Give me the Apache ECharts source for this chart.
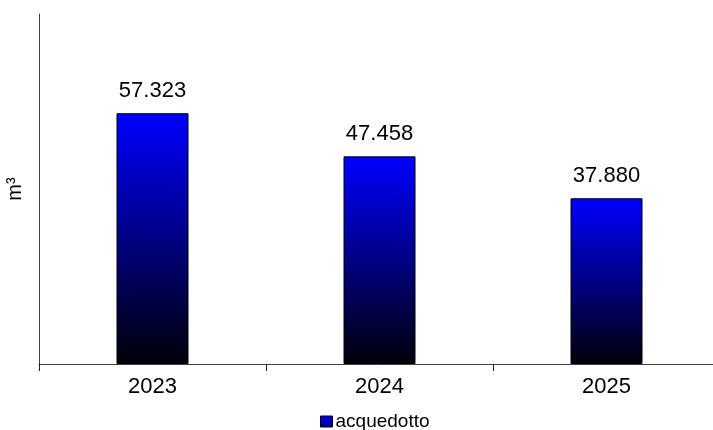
<!DOCTYPE html>
<html><head><meta charset="utf-8">
<script src="https://cdn.jsdelivr.net/npm/echarts@6/dist/echarts.min.js"></script>
<style>html,body{margin:0;padding:0;background:#fff}#c{width:713px;height:430px}</style>
</head><body><div id="c"></div>
<script>
const categories = ['2023', '2024', '2025'];
const acquedotto = [57323, 47458, 37880];
const seriesName = 'acquedotto';
const yName = 'm³';

const fmt = v => String(v).replace(/\B(?=(\d{3})+(?!\d))/g, '.');

const chart = echarts.init(document.getElementById('c'));
chart.setOption({
  animation: false,
  backgroundColor: '#fff',
  textStyle: { fontFamily: 'Liberation Sans, Arial, sans-serif' },
  grid: { left: 39, width: 681, top: 14, bottom: 66, containLabel: false, outerBoundsMode: 'none' },
  legend: {
    data: [seriesName],
    top: 412, left: 320, padding: 0,
    itemWidth: 12, itemHeight: 11, itemGap: 4,
    icon: 'rect',
    itemStyle: {
      color: new echarts.graphic.LinearGradient(0, 0, 0, 1, [
        { offset: 0, color: '#0000ff' },
        { offset: 1, color: '#00007a' }
      ]),
      borderColor: '#000', borderWidth: 1
    },
    textStyle: { fontSize: 19, color: '#000', padding: [0, 0, 0, -2] }
  },
  xAxis: {
    type: 'category',
    data: categories,
    axisLine: { lineStyle: { color: '#404040', width: 1 } },
    axisTick: { show: true, length: 7, lineStyle: { color: '#202020' } },
    axisLabel: { fontSize: 22, color: '#000', margin: 12 }
  },
  yAxis: {
    type: 'value',
    min: 0, max: 80000, interval: 80000,
    name: yName,
    nameLocation: 'middle',
    nameGap: 14,
    nameTextStyle: { fontSize: 20, color: '#000' },
    axisLine: { show: true, lineStyle: { color: '#404040', width: 1 } },
    axisTick: { show: false },
    axisLabel: { show: false },
    splitLine: { show: false }
  },
  series: [{
    name: seriesName,
    type: 'bar',
    data: acquedotto,
    barWidth: 72,
    itemStyle: {
      borderColor: '#000', borderWidth: 1,
      color: new echarts.graphic.LinearGradient(0, 0, 0, 1, [
        { offset: 0, color: '#0000ff' },
        { offset: 1, color: '#000008' }
      ])
    },
    label: {
      show: true, position: 'top', distance: 11,
      fontSize: 22, color: '#000',
      formatter: p => fmt(p.value)
    }
  }]
});
</script></body></html>
